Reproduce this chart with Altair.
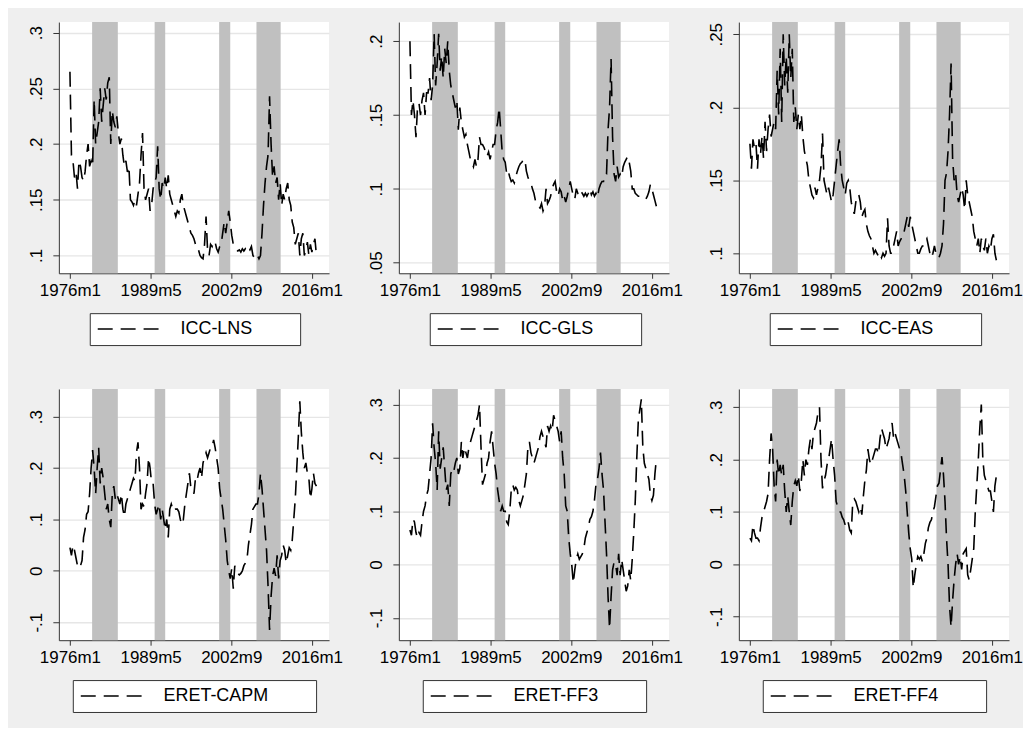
import altair as alt
import pandas as pd

FONT = "Liberation Sans"

# quarterly observations (months 1, 4, 7, 10 of each year), 1976 .. 2016
YEARS = list(range(1976, 2017))
QMONTHS = [1, 4, 7, 10]

ICC_LNS = [
    0.265, 0.19, 0.185, 0.17,
    0.175, 0.16, 0.185, 0.18,
    0.17, 0.167, 0.175, 0.19,
    0.2, 0.18, 0.185, 0.18,
    0.24, 0.2, 0.21, 0.22,
    0.25, 0.22, 0.235, 0.25,
    0.24, 0.255, 0.26, 0.2,
    0.23, 0.22, 0.215, 0.225,
    0.21, 0.2, 0.205, 0.19,
    0.18, 0.185, 0.175, 0.18,
    0.15, 0.148, 0.145, 0.15,
    0.145, 0.155, 0.165, 0.19,
    0.21, 0.16, 0.15, 0.155,
    0.16, 0.14, 0.145, 0.16,
    0.165, 0.17, 0.198, 0.16,
    0.15, 0.165, 0.16, 0.17,
    0.16, 0.172, 0.155, 0.15,
    0.145, 0.14, 0.135, 0.14,
    0.138, 0.15, 0.155, 0.145,
    0.14, 0.135, 0.13, 0.125,
    0.12, 0.118, 0.115, 0.11,
    0.11, 0.105, 0.1, 0.098,
    0.097, 0.11, 0.135, 0.105,
    0.1, 0.11, 0.108, 0.113,
    0.112, 0.106, 0.103, 0.108,
    0.11, 0.12, 0.13, 0.12,
    0.13, 0.14, 0.13, 0.118,
    0.11, 0.107, 0.105, 0.104,
    0.105, 0.103, 0.106, 0.104,
    0.106, 0.104, 0.107, 0.105,
    0.108, 0.1, 0.098, 0.097,
    0.1, 0.097, 0.1, 0.12,
    0.145, 0.165, 0.18, 0.19,
    0.243, 0.2, 0.17, 0.18,
    0.165, 0.17, 0.15, 0.165,
    0.145, 0.155, 0.15, 0.16,
    0.165, 0.15, 0.145, 0.13,
    0.125, 0.11, 0.115, 0.12,
    0.1, 0.115, 0.12, 0.1,
    0.105, 0.112, 0.1, 0.11,
    0.103, 0.11, 0.115, 0.1,
]

ICC_GLS = [
    0.2, 0.15, 0.16, 0.15,
    0.135, 0.155, 0.158, 0.15,
    0.16, 0.165, 0.15, 0.165,
    0.165, 0.175, 0.16, 0.17,
    0.205, 0.17, 0.185, 0.205,
    0.18, 0.19, 0.175, 0.195,
    0.185, 0.2, 0.18, 0.17,
    0.165, 0.16, 0.155, 0.16,
    0.14, 0.155, 0.145, 0.14,
    0.135, 0.137, 0.13, 0.125,
    0.12, 0.118, 0.115, 0.12,
    0.115, 0.12, 0.135, 0.13,
    0.13, 0.128, 0.125, 0.122,
    0.125, 0.12, 0.125, 0.13,
    0.13, 0.14, 0.145, 0.155,
    0.14, 0.125, 0.12, 0.118,
    0.11, 0.112, 0.108, 0.105,
    0.106, 0.104, 0.108, 0.112,
    0.115, 0.117, 0.118, 0.12,
    0.12, 0.112, 0.108, 0.105,
    0.104, 0.1, 0.097, 0.092,
    0.09, 0.088, 0.087, 0.09,
    0.085, 0.088, 0.1, 0.09,
    0.092, 0.095, 0.1, 0.103,
    0.105, 0.098, 0.095, 0.1,
    0.098, 0.092, 0.095, 0.091,
    0.095, 0.1, 0.105, 0.1,
    0.095, 0.093, 0.1, 0.097,
    0.095, 0.098, 0.097, 0.095,
    0.097, 0.095, 0.097, 0.1,
    0.096, 0.098, 0.095, 0.097,
    0.094, 0.1, 0.103, 0.105,
    0.105, 0.11, 0.11, 0.14,
    0.155, 0.188, 0.135, 0.11,
    0.105, 0.115, 0.108, 0.11,
    0.108, 0.115, 0.118, 0.12,
    0.122, 0.118, 0.112, 0.1,
    0.1, 0.097, 0.096, 0.095,
    0.095, 0.094, 0.094, 0.093,
    0.093, 0.095, 0.098, 0.103,
    0.1, 0.096, 0.092, 0.088,
]

ICC_EAS = [
    0.175, 0.158, 0.178, 0.172,
    0.175, 0.158, 0.178, 0.168,
    0.18, 0.165, 0.19, 0.17,
    0.185, 0.195, 0.18, 0.185,
    0.19, 0.185, 0.225, 0.195,
    0.24, 0.19, 0.25, 0.215,
    0.235, 0.21, 0.25, 0.22,
    0.24, 0.19, 0.2, 0.185,
    0.195, 0.185, 0.195, 0.18,
    0.17, 0.165, 0.16, 0.15,
    0.145, 0.14, 0.138, 0.145,
    0.14, 0.145, 0.15, 0.16,
    0.182, 0.15, 0.145, 0.14,
    0.145, 0.14, 0.135, 0.14,
    0.15, 0.16, 0.17, 0.178,
    0.16, 0.15, 0.145, 0.14,
    0.148, 0.15, 0.145, 0.135,
    0.13, 0.127, 0.135, 0.14,
    0.14, 0.135, 0.125, 0.128,
    0.13, 0.12, 0.115, 0.112,
    0.11, 0.105, 0.1, 0.102,
    0.1, 0.098, 0.1, 0.097,
    0.1, 0.098, 0.1, 0.124,
    0.105, 0.1, 0.1, 0.105,
    0.11, 0.115, 0.105, 0.108,
    0.11, 0.11, 0.115, 0.12,
    0.125, 0.118, 0.125, 0.12,
    0.115, 0.11, 0.105, 0.1,
    0.1, 0.103, 0.105, 0.105,
    0.108, 0.11, 0.105, 0.1,
    0.097, 0.1, 0.105, 0.1,
    0.1, 0.097, 0.1, 0.105,
    0.12, 0.15, 0.155, 0.17,
    0.195, 0.23, 0.165, 0.15,
    0.155, 0.14, 0.135, 0.14,
    0.145, 0.14, 0.13, 0.15,
    0.14, 0.135, 0.13, 0.125,
    0.115, 0.11, 0.105, 0.11,
    0.1, 0.11, 0.105, 0.102,
    0.11, 0.1, 0.105, 0.102,
    0.11, 0.113, 0.1, 0.095,
]

ERET_CAPM = [
    0.045, 0.03, 0.05, 0.04,
    0.025, 0.01, 0.015, 0.01,
    0.02, 0.065, 0.08, 0.11,
    0.115, 0.15, 0.2, 0.235,
    0.2, 0.15, 0.2, 0.24,
    0.17, 0.2, 0.18, 0.15,
    0.12, 0.13, 0.1, 0.085,
    0.15, 0.165, 0.14, 0.15,
    0.14, 0.13, 0.15, 0.12,
    0.105, 0.13, 0.14, 0.15,
    0.16, 0.17, 0.18, 0.175,
    0.23, 0.25, 0.2, 0.12,
    0.13, 0.125, 0.15, 0.17,
    0.22, 0.2, 0.17, 0.17,
    0.13, 0.11, 0.12, 0.13,
    0.1, 0.12, 0.1, 0.08,
    0.1, 0.065, 0.12, 0.13,
    0.12, 0.125, 0.12, 0.12,
    0.115, 0.1, 0.09, 0.1,
    0.13, 0.15, 0.17, 0.19,
    0.16, 0.16, 0.15, 0.18,
    0.175, 0.19, 0.2, 0.18,
    0.21, 0.22, 0.23, 0.22,
    0.23, 0.24, 0.24, 0.255,
    0.24, 0.22, 0.2, 0.16,
    0.14, 0.12, 0.09, 0.06,
    0.02, 0.0, -0.015, 0.005,
    -0.035, 0.01, 0.0, -0.005,
    -0.008, -0.005, 0.0, 0.01,
    0.015, 0.02, 0.05, 0.07,
    0.09, 0.12, 0.125, 0.13,
    0.13, 0.15, 0.19, 0.16,
    0.12, 0.08, 0.04, -0.03,
    -0.115, -0.05, -0.01, 0.005,
    -0.01, 0.03, -0.015, 0.02,
    0.03, 0.05, 0.04, 0.015,
    0.03, 0.045, 0.04, 0.06,
    0.1, 0.14, 0.2, 0.26,
    0.33, 0.27, 0.23, 0.2,
    0.21, 0.19, 0.18, 0.14,
    0.16, 0.19, 0.17, 0.165,
]

ERET_FF3 = [
    0.065, 0.055, 0.085, 0.08,
    0.06, 0.05, 0.06, 0.055,
    0.08, 0.1, 0.11, 0.13,
    0.14, 0.17, 0.2, 0.265,
    0.22, 0.19, 0.14, 0.25,
    0.18, 0.2, 0.22, 0.18,
    0.14, 0.15, 0.11, 0.17,
    0.18, 0.175, 0.19, 0.2,
    0.17, 0.18, 0.23, 0.2,
    0.22, 0.21, 0.2, 0.22,
    0.23, 0.24, 0.25, 0.26,
    0.27, 0.28, 0.3, 0.22,
    0.15, 0.16, 0.17, 0.19,
    0.2, 0.23, 0.25, 0.22,
    0.19, 0.17, 0.14, 0.12,
    0.1, 0.11, 0.1, 0.1,
    0.08, 0.075, 0.1, 0.14,
    0.15, 0.14, 0.145, 0.14,
    0.12, 0.11, 0.12, 0.13,
    0.15, 0.17, 0.22, 0.23,
    0.21, 0.2, 0.19, 0.2,
    0.21, 0.22, 0.24, 0.25,
    0.24, 0.23, 0.22, 0.26,
    0.25, 0.26, 0.25, 0.28,
    0.27, 0.26, 0.25, 0.23,
    0.25, 0.2, 0.17, 0.11,
    0.1, 0.05, 0.02, 0.0,
    -0.035, -0.01, 0.01, 0.02,
    0.01, 0.015, 0.02, 0.03,
    0.05, 0.06, 0.07, 0.085,
    0.09, 0.1, 0.12, 0.15,
    0.16, 0.18, 0.21, 0.17,
    0.14, 0.08, 0.02, -0.06,
    -0.12, -0.06, -0.01, 0.005,
    0.0, -0.02, 0.02, -0.02,
    0.01, -0.01, -0.03, -0.05,
    -0.04, -0.01, -0.03, 0.01,
    0.06, 0.12, 0.2, 0.27,
    0.29, 0.31, 0.22, 0.19,
    0.18, 0.17, 0.16, 0.13,
    0.12, 0.13, 0.17, 0.2,
]

ERET_FF4 = [
    0.05, 0.045, 0.075, 0.06,
    0.05, 0.05, 0.045, 0.07,
    0.09, 0.1, 0.11, 0.12,
    0.135, 0.2, 0.25, 0.22,
    0.15, 0.12, 0.2, 0.17,
    0.19, 0.17, 0.19, 0.14,
    0.1, 0.13, 0.1, 0.075,
    0.12, 0.15, 0.16, 0.15,
    0.17, 0.14, 0.16, 0.2,
    0.17, 0.2, 0.19, 0.22,
    0.24, 0.22, 0.25, 0.26,
    0.27, 0.29, 0.3, 0.2,
    0.145, 0.16, 0.17, 0.19,
    0.2, 0.22, 0.24, 0.2,
    0.17, 0.12, 0.11, 0.1,
    0.1, 0.09, 0.085, 0.075,
    0.07, 0.08, 0.065, 0.06,
    0.12, 0.125, 0.12, 0.11,
    0.1, 0.11, 0.095, 0.13,
    0.16, 0.18, 0.22, 0.2,
    0.19, 0.2, 0.21, 0.22,
    0.22, 0.21, 0.24, 0.26,
    0.25, 0.24, 0.22, 0.23,
    0.24, 0.26, 0.27, 0.24,
    0.25, 0.24, 0.23, 0.22,
    0.21, 0.19, 0.17, 0.14,
    0.1, 0.06, 0.03, 0.01,
    -0.045, -0.02, 0.0, 0.015,
    0.01, 0.015, 0.005, 0.02,
    0.04, 0.05, 0.07, 0.08,
    0.085, 0.1, 0.11, 0.13,
    0.15, 0.155, 0.18, 0.205,
    0.17, 0.12, 0.05, 0.0,
    -0.08, -0.12, -0.07, -0.03,
    0.0, 0.02, 0.0, 0.015,
    -0.01, 0.02, 0.025, 0.03,
    -0.02, -0.03, -0.01, 0.01,
    0.03, 0.1, 0.15, 0.2,
    0.26, 0.305, 0.2, 0.17,
    0.16, 0.15, 0.14, 0.14,
    0.12, 0.1, 0.15, 0.17,
]

# shaded periods (Stata monthly dates)
BAND_START = ["1979m9", "1990m1", "2000m9", "2006m11"]
BAND_END = ["1983m12", "1991m10", "2002m7", "2010m11"]

X_TICKS = ["1976m1", "1989m5", "2002m9", "2016m1"]
X_RANGE = ["1974m3", "2018m11"]

NAMES = ["ICC-LNS", "ICC-GLS", "ICC-EAS", "ERET-CAPM", "ERET-FF3", "ERET-FF4"]
VALUES = [ICC_LNS, ICC_GLS, ICC_EAS, ERET_CAPM, ERET_FF3, ERET_FF4]
Y_TICKS = [
    [0.1, 0.15, 0.2, 0.25, 0.3],
    [0.05, 0.1, 0.15, 0.2],
    [0.1, 0.15, 0.2, 0.25],
    [-0.1, 0, 0.1, 0.2, 0.3],
    [-0.1, 0, 0.1, 0.2, 0.3],
    [-0.1, 0, 0.1, 0.2, 0.3],
]
Y_RANGE = [
    [0.084, 0.3096],
    [0.0428, 0.213],
    [0.0863, 0.2584],
    [-0.135, 0.354],
    [-0.1418, 0.3294],
    [-0.145, 0.335],
]
LEGEND_X = [31, 31, 31, 14, 24, 24]


def mnum(s):
    y, m = s.split("m")
    return (int(y) - 1976) * 12 + int(m) - 1


DATES = [f"{y}m{m}" for y in YEARS for m in QMONTHS]
T = [mnum(d) for d in DATES]

W, H = 271, 252
DASH = [15, 8]
# non-breaking spaces closed by a zero-width space so they are not trimmed:
# they give the legend frame its empty right-hand part, as in the original
LABEL_PAD = "\u00a0" * 8 + "\u200b"

x_scale = alt.Scale(domain=[mnum(X_RANGE[0]), mnum(X_RANGE[1])], nice=False, zero=False)
x_axis = alt.Axis(
    values=[mnum(v) for v in X_TICKS],
    labelExpr="(1976 + floor(datum.value / 12)) + 'm' + (datum.value % 12 + 1)",
    grid=False,
    tickSize=5,
    labelPadding=4,
    labelFontSize=17,
    labelFlush=False,
)

bands = pd.DataFrame({"s": [mnum(v) for v in BAND_START], "e": [mnum(v) for v in BAND_END]})

y_label_expr = (
    "datum.value < 0 ? '-' + replace(format(-datum.value, '~g'), '0.', '.') "
    ": replace(format(datum.value, '~g'), '0.', '.')"
)


def panel(i):
    name = NAMES[i]
    vals = VALUES[i]
    assert len(vals) == len(T), (name, len(vals))
    df = pd.DataFrame({"date": DATES, "t": T, "value": vals, "series": name})
    y_scale = alt.Scale(domain=Y_RANGE[i], nice=False, zero=False)
    y_axis = alt.Axis(
        values=Y_TICKS[i],
        labelExpr=y_label_expr,
        labelAngle=270,
        labelAlign="center",
        labelBaseline="bottom",
        labelPadding=7,
        tickSize=6,
        labelFontSize=17,
        grid=True,
        labelFlush=False,
    )
    band = alt.Chart(bands).mark_rect(color="#c0c0c0").encode(
        x=alt.X("s:Q", scale=x_scale, axis=x_axis, title=None),
        x2="e:Q",
    )
    line = alt.Chart(df).mark_line(color="black", strokeWidth=1.6, clip=True).encode(
        x=alt.X("t:Q", scale=x_scale, axis=x_axis, title=None),
        y=alt.Y("value:Q", scale=y_scale, axis=y_axis, title=None),
        strokeDash=alt.StrokeDash(
            "series:N",
            scale=alt.Scale(domain=[name], range=[DASH]),
            legend=alt.Legend(
                title=None,
                orient="none",
                legendX=LEGEND_X[i],
                legendY=292,
                symbolType="stroke",
                symbolSize=3844,
                symbolStrokeWidth=1.5,
                symbolStrokeColor="black",
                clipHeight=18,
                labelFontSize=18,
                labelOffset=20,
                labelLimit=400,
                labelColor="black",
                labelExpr="datum.label + '" + LABEL_PAD + "'",
                padding=7,
                strokeColor="#333333",
                fillColor="white",
            ),
        ),
    )
    return alt.layer(band, line).properties(width=W, height=H)


chart = (
    alt.concat(*[panel(i) for i in range(6)], columns=3, spacing={"row": 116, "column": 70})
    .resolve_scale(strokeDash="independent", x="independent", y="independent")
    .properties(
        bounds="flush",
        background="#efefef",
        padding={"left": 20, "top": 13, "right": 0, "bottom": 14},
    )
    .configure(font=FONT)
    .configure_view(fill="white", strokeWidth=0)
    .configure_axis(
        domainColor="#333333",
        tickColor="#333333",
        domainWidth=1,
        tickWidth=1,
        gridColor="#e6e6e6",
        gridWidth=1.3,
        labelColor="black",
        labelFont=FONT,
    )
    .configure_legend(labelFont=FONT)
)

chart.save("out.html", embed_options={"renderer": "svg", "actions": False})
